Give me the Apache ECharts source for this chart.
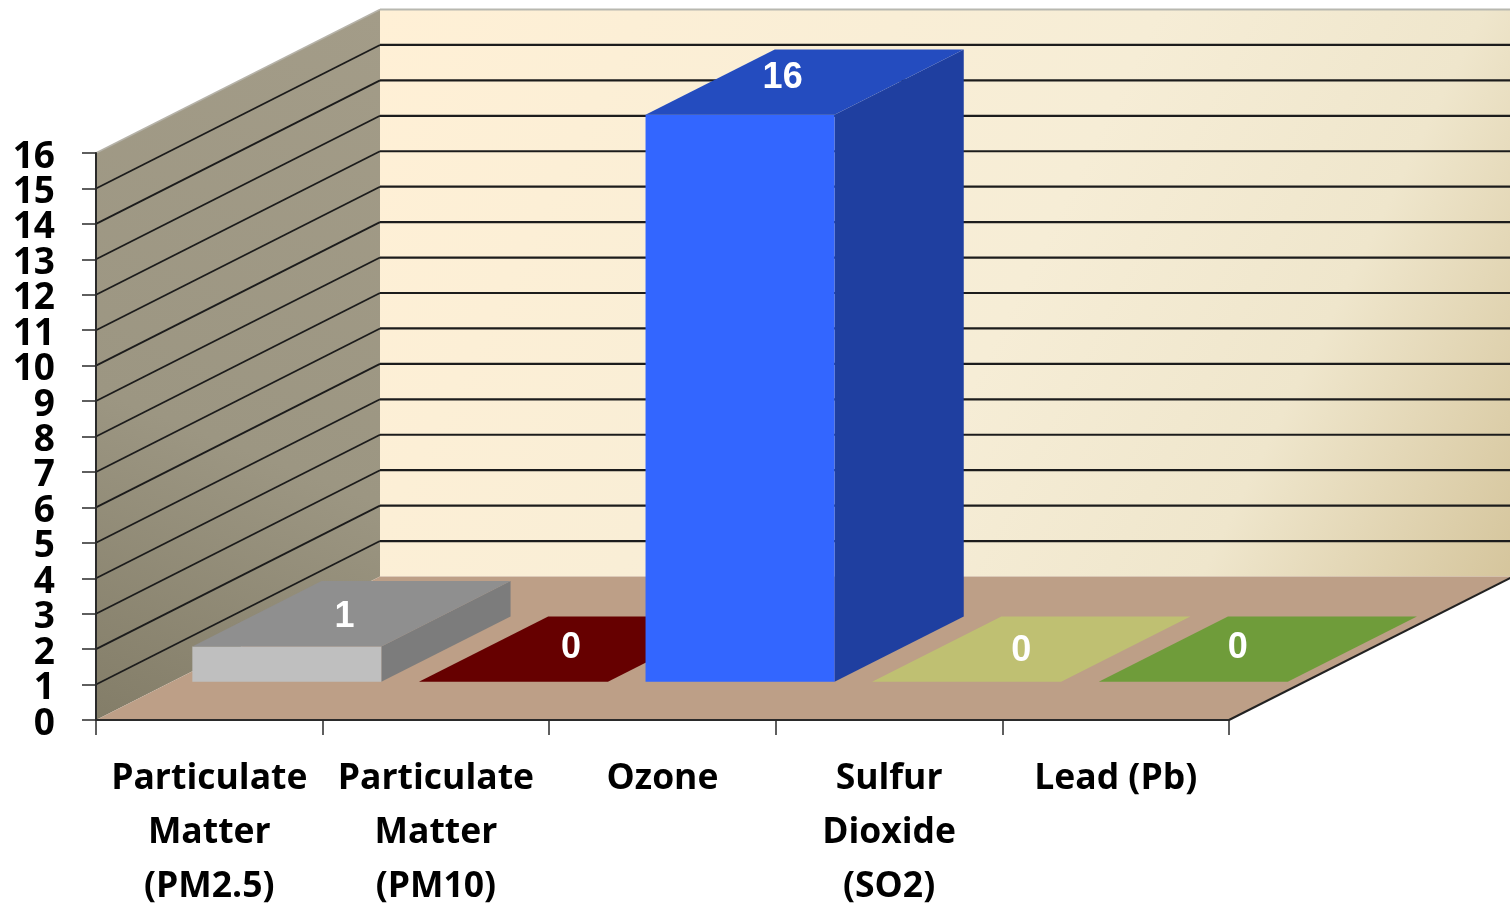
<!DOCTYPE html>
<html>
<head>
<meta charset="utf-8">
<style>html,body{margin:0;padding:0;background:#fff}#c{width:1510px;height:907px}</style>
<script src="https://cdn.jsdelivr.net/npm/echarts@6/dist/echarts.min.js"></script>
</head>
<body>
<div id="c"></div>
<script>
const categories = ['Particulate\nMatter\n(PM2.5)', 'Particulate\nMatter\n(PM10)', 'Ozone', 'Sulfur\nDioxide\n(SO2)', 'Lead (Pb)'];
const values = [1, 0, 16, 0, 0];
const wallTicks = [0, 1, 2, 3, 4, 5, 6, 7, 8, 9, 10, 11, 12, 13, 14, 15, 16];
const frontColors = ['#bfbfbf', '#800000', '#3366ff', '#cccc80', '#7fb040'];
const topColors = ['#8f8f8f', '#660000', '#244cbf', '#bfc072', '#6f9c3a'];
const sideColors = ['#7c7c7c', '#550000', '#1f3fa0', '#a8a860', '#5d8530'];
const labelNudgeX = [-7, -7, -22, -10, -20];
const labelNudgeY = [3, -1, -4, 2, -1];

// depth vector of the floor, and where the bars sit inside it
const DEPTH_X = 284, DEPTH_Y = -143.5;
const BAR_NEAR_X = 0.273, BAR_NEAR_Y = 0.266, BAR_DEEP = 0.455, BAR_W = 0.834;

function line(x1, y1, x2, y2, stroke, width) {
  return {type: 'line', shape: {x1, y1, x2, y2}, style: {stroke, lineWidth: width}};
}
function poly(points, fill) {
  return {type: 'polygon', shape: {points}, style: {fill}};
}

function renderWalls(params, api) {
  const c = params.coordSys;
  const L = c.x, R = c.x + c.width, T = c.y, B = c.y + c.height;
  const dx = DEPTH_X, dy = DEPTH_Y;
  return {type: 'group', children: [
    poly([[L, B], [L + dx, B + dy], [L + dx, T + dy], [L, T]], {
      type: 'linear', x: 1, y: 0, x2: 0, y2: 1, colorStops: [
        {offset: 0, color: '#a39c88'}, {offset: 0.6, color: '#9c9682'}, {offset: 1, color: '#837d68'}]
    }),
    poly([[L + dx, B + dy], [R + dx, B + dy], [R + dx, T + dy], [L + dx, T + dy]], {
      type: 'linear', x: 0, y: 0, x2: 1, y2: 1, colorStops: [
        {offset: 0, color: '#fff0d6'}, {offset: 0.55, color: '#f6edd6'}, {offset: 0.78, color: '#efe6cc'}, {offset: 1, color: '#d5c59c'}]
    }),
    poly([[L, B], [R, B], [R + dx, B + dy], [L + dx, B + dy]], '#bd9f87'),
    line(R, B, R + dx, B + dy, '#222', 2),
    line(L, T, L + dx, T + dy, '#b5b2a8', 1.5),
    line(L + dx, T + dy, R + dx, T + dy, '#b8b8b0', 2)
  ]};
}

function renderGrid(params, api) {
  const c = params.coordSys;
  const L = c.x, R = c.x + c.width;
  const v = api.value(1);
  const y = api.coord([0, v])[1];
  const children = [{type: 'text', style: {
    text: String(v), x: L - 41, y: y + 4, fill: '#000', align: 'right', verticalAlign: 'middle',
    fontFamily: 'Open Sans', fontWeight: 'bold', fontSize: 37
  }}];
  if (v !== 0 && v !== 16) {
    children.push(line(L, y, L + DEPTH_X, y + DEPTH_Y, '#1c1c1c', 1.8));
    children.push(line(L + DEPTH_X, y + DEPTH_Y, R + DEPTH_X, y + DEPTH_Y, '#1c1c1c', 2.2));
  }
  return {type: 'group', children};
}

function renderBar(params, api) {
  const i = api.value(0), v = api.value(1);
  const base = api.coord([i, 0]), top = api.coord([i, v]);
  const band = api.size([1, 0])[0];
  const w = band * BAR_W;
  const x0 = base[0] - w / 2 + DEPTH_X * BAR_NEAR_X;
  const x1 = x0 + w;
  const yb = base[1] + DEPTH_Y * BAR_NEAR_Y;
  const yt = top[1] + DEPTH_Y * BAR_NEAR_Y;
  const dx = DEPTH_X * BAR_DEEP, dy = DEPTH_Y * BAR_DEEP;
  const children = [];
  if (v > 0) {
    children.push(poly([[x1, yb], [x1 + dx, yb + dy], [x1 + dx, yt + dy], [x1, yt]], sideColors[i]));
    children.push(poly([[x0, yb], [x1, yb], [x1, yt], [x0, yt]], frontColors[i]));
  }
  children.push(poly([[x0, yt], [x1, yt], [x1 + dx, yt + dy], [x0 + dx, yt + dy]], topColors[i]));
  children.push({type: 'text', z2: 10, style: {
    text: String(v),
    x: x0 + w / 2 + dx / 2 + labelNudgeX[i],
    y: yt + dy / 2 + labelNudgeY[i],
    fill: '#fff', align: 'center', verticalAlign: 'middle',
    fontFamily: 'Liberation Sans', fontWeight: 'bold', fontSize: 36
  }});
  return {type: 'group', children};
}

const chart = echarts.init(document.getElementById('c'), null, {renderer: 'canvas', width: 1510, height: 907});
chart.setOption({
  animation: false,
  backgroundColor: '#fff',
  grid: {left: 96, right: 281, top: 153, bottom: 187, containLabel: false, outerBoundsMode: 'none'},
  xAxis: {
    type: 'category', data: categories, boundaryGap: true, z: 20,
    axisLine: {show: true, lineStyle: {color: '#2a2a2a', width: 2}},
    axisTick: {show: true, length: 15, alignWithLabel: false, lineStyle: {color: '#2a2a2a', width: 1.5}},
    axisLabel: {interval: 0, margin: 32, color: '#000', fontFamily: 'Open Sans', fontWeight: 'bold', fontSize: 35.5, lineHeight: 54, verticalAlign: 'top', hideOverlap: false}
  },
  yAxis: {
    type: 'value', min: 0, max: 16, interval: 1, z: 20,
    splitLine: {show: false},
    axisLine: {show: true, lineStyle: {color: '#2a2a2a', width: 2}},
    axisTick: {show: true, length: 14, lineStyle: {color: '#2a2a2a', width: 1.5}},
    axisLabel: {show: false}
  },
  series: [
    {type: 'custom', z: 1, silent: true, renderItem: renderWalls, data: [[0, 0]], encode: {x: 0, y: 1}},
    {type: 'custom', z: 2, silent: true, renderItem: renderGrid, data: wallTicks.map(t => [0, t]), encode: {x: 0, y: 1}},
    {type: 'custom', z: 3, silent: true, renderItem: renderBar, data: values.map((v, i) => [i, v]), encode: {x: 0, y: 1}}
  ]
});
</script>
</body>
</html>
